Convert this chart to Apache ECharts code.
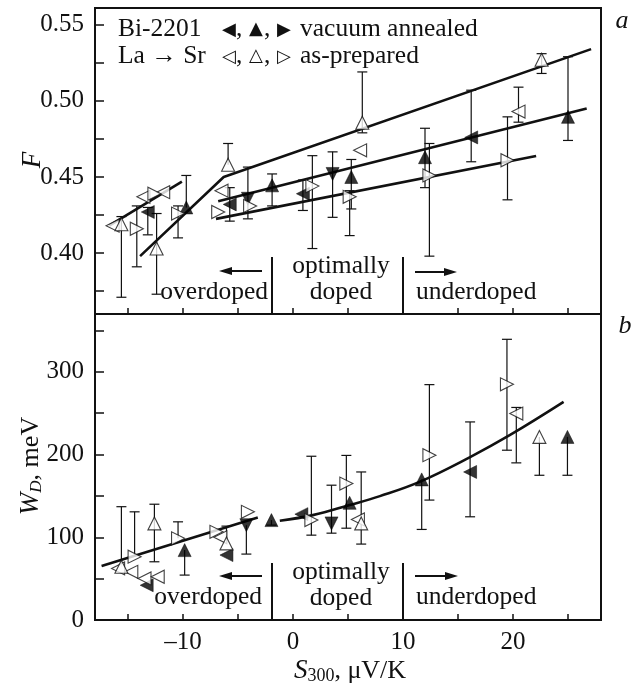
<!DOCTYPE html>
<html><head><meta charset="utf-8">
<script src="https://cdn.jsdelivr.net/npm/echarts@6/dist/echarts.min.js"></script>
<style>html,body{margin:0;padding:0;background:#fff}#c{width:635px;height:688px}</style>
</head><body><div id="c"></div>
<script>
// ---- axis ticks / labels ----
const xTicks = [-15,-10,-5,0,5,10,15,20,25];
const xLabels = [-10,0,10,20];
const fTicks = [0.375,0.4,0.425,0.45,0.475,0.5,0.525,0.55];
const fLabels = [0.40,0.45,0.50,0.55];
const wTicks = [50,100,150,200,250,300,350];
const wLabels = [0,100,200,300];

// ---- panel a: F vs S300  [S, F, errLow, errHigh] ----
const fVacLeft  = [[-13.2,0.427,0.412,0.430],[-5.75,0.432,0.421,0.443],[0.9,0.439,0.428,0.448],[16.2,0.476,0.460,0.507]];
const fVacUp    = [[-9.7,0.430,null,0.451],[-1.9,0.4445,0.431,0.452],[5.3,0.450,0.429,0.4615],[12.0,0.463,0.443,0.482],[25.0,0.4895,0.474,0.529]];
const fVacDown  = [[-4.1,0.4357,0.4225,0.4565],[3.6,0.452,0.4235,0.4665]];
const fPrepLeft = [[-16.4,0.418,null,null],[-13.6,0.437,null,null],[-11.8,0.440,null,null],[-6.5,0.441,null,null],[6.1,0.4675,null,null],[20.5,0.493,0.486,0.509]];
const fPrepUp   = [[-15.6,0.419,0.371,0.424],[-12.4,0.403,0.373,0.426],[-5.9,0.458,null,0.472],[6.3,0.4856,0.479,0.519],[22.6,0.527,0.518,0.531]];
const fPrepRight= [[-14.2,0.416,0.391,0.431],[-12.6,0.439,null,null],[-10.45,0.426,0.410,0.431],[-6.8,0.427,null,null],[-3.9,0.431,null,null],[1.76,0.444,0.403,0.464],[5.15,0.437,0.4115,0.441],[12.4,0.451,0.398,0.472],[19.5,0.461,0.435,0.4895]];
const fLine0 = [[-16.7,0.418],[-10.1,0.447]];
const fLine1 = [[-13.9,0.398],[-6.3,0.450],[27.1,0.534]];
const fLine2 = [[-6.8,0.434],[26.7,0.495]];
const fLine3 = [[-7.0,0.4225],[22.1,0.4638]];

// ---- panel b: W_D vs S300  [S, W, errLow, errHigh] ----
const wVacLeft  = [[-13.3,42,null,null],[-6.05,78.5,null,null],[0.76,128,null,null],[16.1,179,124.8,239.5]];
const wVacUp    = [[-9.85,84.5,54.3,null],[-1.96,120.8,114.7,null],[5.15,141.7,null,null],[11.7,170,109.5,null],[24.95,221.4,175,null]];
const wVacDown  = [[-4.24,114.7,79.7,null],[3.5,116.8,105,163]];
const wPrepLeft = [[-15.9,62.4,null,null],[-14.7,58.3,null,null],[-13.5,50.3,null,null],[-12.3,52.3,null,null],[-6.6,100,null,null],[5.9,121.6,null,null],[20.3,249.6,190,257]];
const wPrepUp   = [[-15.6,64.4,null,137],[-12.6,116.8,70.4,140],[-6.05,92.6,null,113.5],[6.2,116.8,91.8,179],[22.4,221.4,175,null]];
const wPrepRight= [[-14.4,76.5,null,130.8],[-10.45,98.7,null,118.7],[-6.96,106.6,null,null],[-4.1,130.8,null,null],[1.67,120.8,102.6,198],[4.85,165,111,199],[12.4,199.3,145,284.6],[19.45,285,205.3,339.4]];
const wLine0 = [[-17.4,65.2],[-3.2,124]];
const wLine1 = [[-1.2,120],[1.8,126.8],[5.15,139],[7.9,149.8],[11.5,167],[16.1,197],[19.7,223.4],[24.6,263.7]];

const INK = '#111';
const SERIF = 'Liberation Serif';
const FS = 25.5;
const chart = echarts.init(document.getElementById('c'), null, {renderer:'canvas'});

function axisX(gi, labels){
  return {type:'value', gridIndex:gi, min:-18, max:28,
    axisLine:{show:false, onZero:false}, splitLine:{show:false},
    axisTick:{show:true, inside:true, length:6, customValues:xTicks, lineStyle:{color:INK, width:1.5}},
    axisLabel:{show:labels, customValues:xLabels, margin:10, color:INK, fontFamily:SERIF, fontSize:25,
      formatter:v=>String(v).replace('-', '\u2013')}};
}
function axisY(gi, min, max, ticks, labels, fmt){
  return {type:'value', gridIndex:gi, min:min, max:max,
    axisLine:{show:false, onZero:false}, splitLine:{show:false},
    axisTick:{show:true, inside:true, length:9, customValues:ticks, lineStyle:{color:INK, width:1.5}},
    axisLabel:{customValues:labels, margin:11, color:INK, fontFamily:SERIF, fontSize:25, formatter:fmt}};
}

function lineSeries(data, gi, smooth){
  return {type:'line', xAxisIndex:gi, yAxisIndex:gi, data:data, smooth:smooth?0.4:false, symbol:'none',
    lineStyle:{color:INK, width:2.6}, z:2, silent:true};
}
function errSeries(groups, gi){
  const data = [];
  groups.forEach(g => g.forEach(p => {
    if (p[2]!==null || p[3]!==null){
      data.push([p[0], p[1], p[2]===null?p[1]:p[2], p[3]===null?p[1]:p[3], p[2]===null?0:1, p[3]===null?0:1]);
    }
  }));
  return {type:'custom', xAxisIndex:gi, yAxisIndex:gi, data:data, z:3, silent:true,
    renderItem:function(params, api){
      const lo = api.coord([api.value(0), api.value(2)]);
      const hi = api.coord([api.value(0), api.value(3)]);
      const st = {stroke:INK, lineWidth:1.2};
      const ch = [{type:'line', shape:{x1:lo[0],y1:lo[1],x2:hi[0],y2:hi[1]}, style:st}];
      if (api.value(4)) ch.push({type:'line', shape:{x1:lo[0]-5,y1:lo[1],x2:lo[0]+5,y2:lo[1]}, style:st});
      if (api.value(5)) ch.push({type:'line', shape:{x1:hi[0]-5,y1:hi[1],x2:hi[0]+5,y2:hi[1]}, style:st});
      return {type:'group', children:ch};
    }};
}
function markSeries(data, gi, rot, filled){
  return {type:'scatter', xAxisIndex:gi, yAxisIndex:gi, data:data.map(p=>[p[0],p[1]]),
    symbol:'triangle', symbolSize:13, symbolRotate:rot, z:filled?4:5, silent:true,
    itemStyle: filled ? {color:'#000', borderColor:'#000', borderWidth:0.6} : {color:'#fff', borderColor:INK, borderWidth:1.1}};
}

const txt = (t, x, y, size, align) => ({type:'text', x:x, y:y, z:10,
  style:{text:t, font:(size||FS)+'px '+SERIF, fill:INK, align:align||'left', verticalAlign:'middle'}});
const glyph = (t, x, y) => ({type:'text', x:x, y:y, z:10,
  style:{text:t, font:'18px DejaVu Sans', fill:INK, align:'center', verticalAlign:'middle'}});
const ln = (x1,y1,x2,y2,w) => ({type:'line', z:10, shape:{x1,y1,x2,y2}, style:{stroke:INK, lineWidth:w||2}});
const arrow = (x1, x2, y) => {
  const d = x2 > x1 ? 1 : -1;
  return [ln(x1, y, x2 - d*6, y, 2),
    {type:'polygon', z:10, shape:{points:[[x2,y],[x2-d*13,y-4],[x2-d*13,y+4]]}, style:{fill:INK}}];
};

const legendRow = (syms, label, y) => [
  glyph(syms[0], 229, y+1), txt(',', 236, y),
  glyph(syms[1], 256, y), txt(',', 264, y),
  glyph(syms[2], 284, y+1),
  txt(label, 300, y)
];

const graphics = [
  txt('Bi-2201', 118, 29),
  txt('La \u2192 Sr', 118, 56),
  ...legendRow(['\u25C0','\u25B2','\u25B6'], 'vacuum annealed', 29),
  ...legendRow(['\u25C1','\u25B3','\u25B7'], 'as-prepared', 56),
  {type:'text', x:622, y:21, z:10, style:{text:'a', font:'italic 26px '+SERIF, fill:INK, align:'center', verticalAlign:'middle'}},
  {type:'text', x:625, y:326, z:10, style:{text:'b', font:'italic 26px '+SERIF, fill:INK, align:'center', verticalAlign:'middle'}},
  // panel a annotations
  ...arrow(262, 219, 271),
  txt('overdoped', 268, 292, FS, 'right'),
  ln(272, 257, 272, 314, 2),
  txt('optimally', 341, 266, FS, 'center'),
  txt('doped', 341, 292, FS, 'center'),
  ln(403, 257, 403, 314, 2),
  ...arrow(415, 457, 272),
  txt('underdoped', 416, 292, FS, 'left'),
  // panel b annotations
  ...arrow(262, 219, 576),
  txt('overdoped', 262, 597, FS, 'right'),
  ln(272, 563, 272, 620, 2),
  txt('optimally', 341, 572, FS, 'center'),
  txt('doped', 341, 598, FS, 'center'),
  ln(403, 563, 403, 620, 2),
  ...arrow(415, 458, 576),
  txt('underdoped', 416, 597, FS, 'left'),
  // axis titles
  {type:'text', x:33, y:160, rotation:Math.PI/2, z:10,
    style:{text:'F', font:'italic 27px '+SERIF, fill:INK, align:'center', verticalAlign:'middle'}},
  {type:'text', x:31, y:466, rotation:Math.PI/2, z:10,
    style:{text:'{i|W}{s|D}{n|, meV}', align:'center', verticalAlign:'middle', fill:INK,
      rich:{i:{font:'italic 27px '+SERIF, fill:INK}, s:{font:'italic 17px '+SERIF, fill:INK, padding:[11,0,0,0]}, n:{font:'26px '+SERIF, fill:INK}}}},
  {type:'text', x:350, y:671, z:10,
    style:{text:'{i|S}{s|300}{n|, \u03BCV/K}', align:'center', verticalAlign:'middle', fill:INK,
      rich:{i:{font:'italic 27px '+SERIF, fill:INK}, s:{font:'18px '+SERIF, fill:INK, padding:[11,0,0,0]}, n:{font:'26px '+SERIF, fill:INK}}}}
];

chart.setOption({
  animation:false,
  backgroundColor:'#fff',
  grid:[
    {left:95, top:8, width:506, height:306, show:true, borderColor:INK, borderWidth:2, backgroundColor:'transparent'},
    {left:95, top:314, width:506, height:306, show:true, borderColor:INK, borderWidth:2, backgroundColor:'transparent'}
  ],
  xAxis:[axisX(0,false), axisX(1,true)],
  yAxis:[axisY(0, 0.36, 0.561, fTicks, fLabels, v=>v.toFixed(2)), axisY(1, 0, 370, wTicks, wLabels, v=>String(v))],
  series:[
    lineSeries(fLine0,0), lineSeries(fLine1,0), lineSeries(fLine2,0), lineSeries(fLine3,0),
    lineSeries(wLine0,1), lineSeries(wLine1,1,true),
    errSeries([fVacLeft,fVacUp,fVacDown,fPrepLeft,fPrepUp,fPrepRight],0),
    errSeries([wVacLeft,wVacUp,wVacDown,wPrepLeft,wPrepUp,wPrepRight],1),
    markSeries(fVacLeft,0,90,true), markSeries(fVacUp,0,0,true), markSeries(fVacDown,0,180,true),
    markSeries(fPrepLeft,0,90,false), markSeries(fPrepUp,0,0,false), markSeries(fPrepRight,0,-90,false),
    markSeries(wVacLeft,1,90,true), markSeries(wVacUp,1,0,true), markSeries(wVacDown,1,180,true),
    markSeries(wPrepLeft,1,90,false), markSeries(wPrepUp,1,0,false), markSeries(wPrepRight,1,-90,false)
  ],
  graphic:{elements:graphics}
});
</script></body></html>
